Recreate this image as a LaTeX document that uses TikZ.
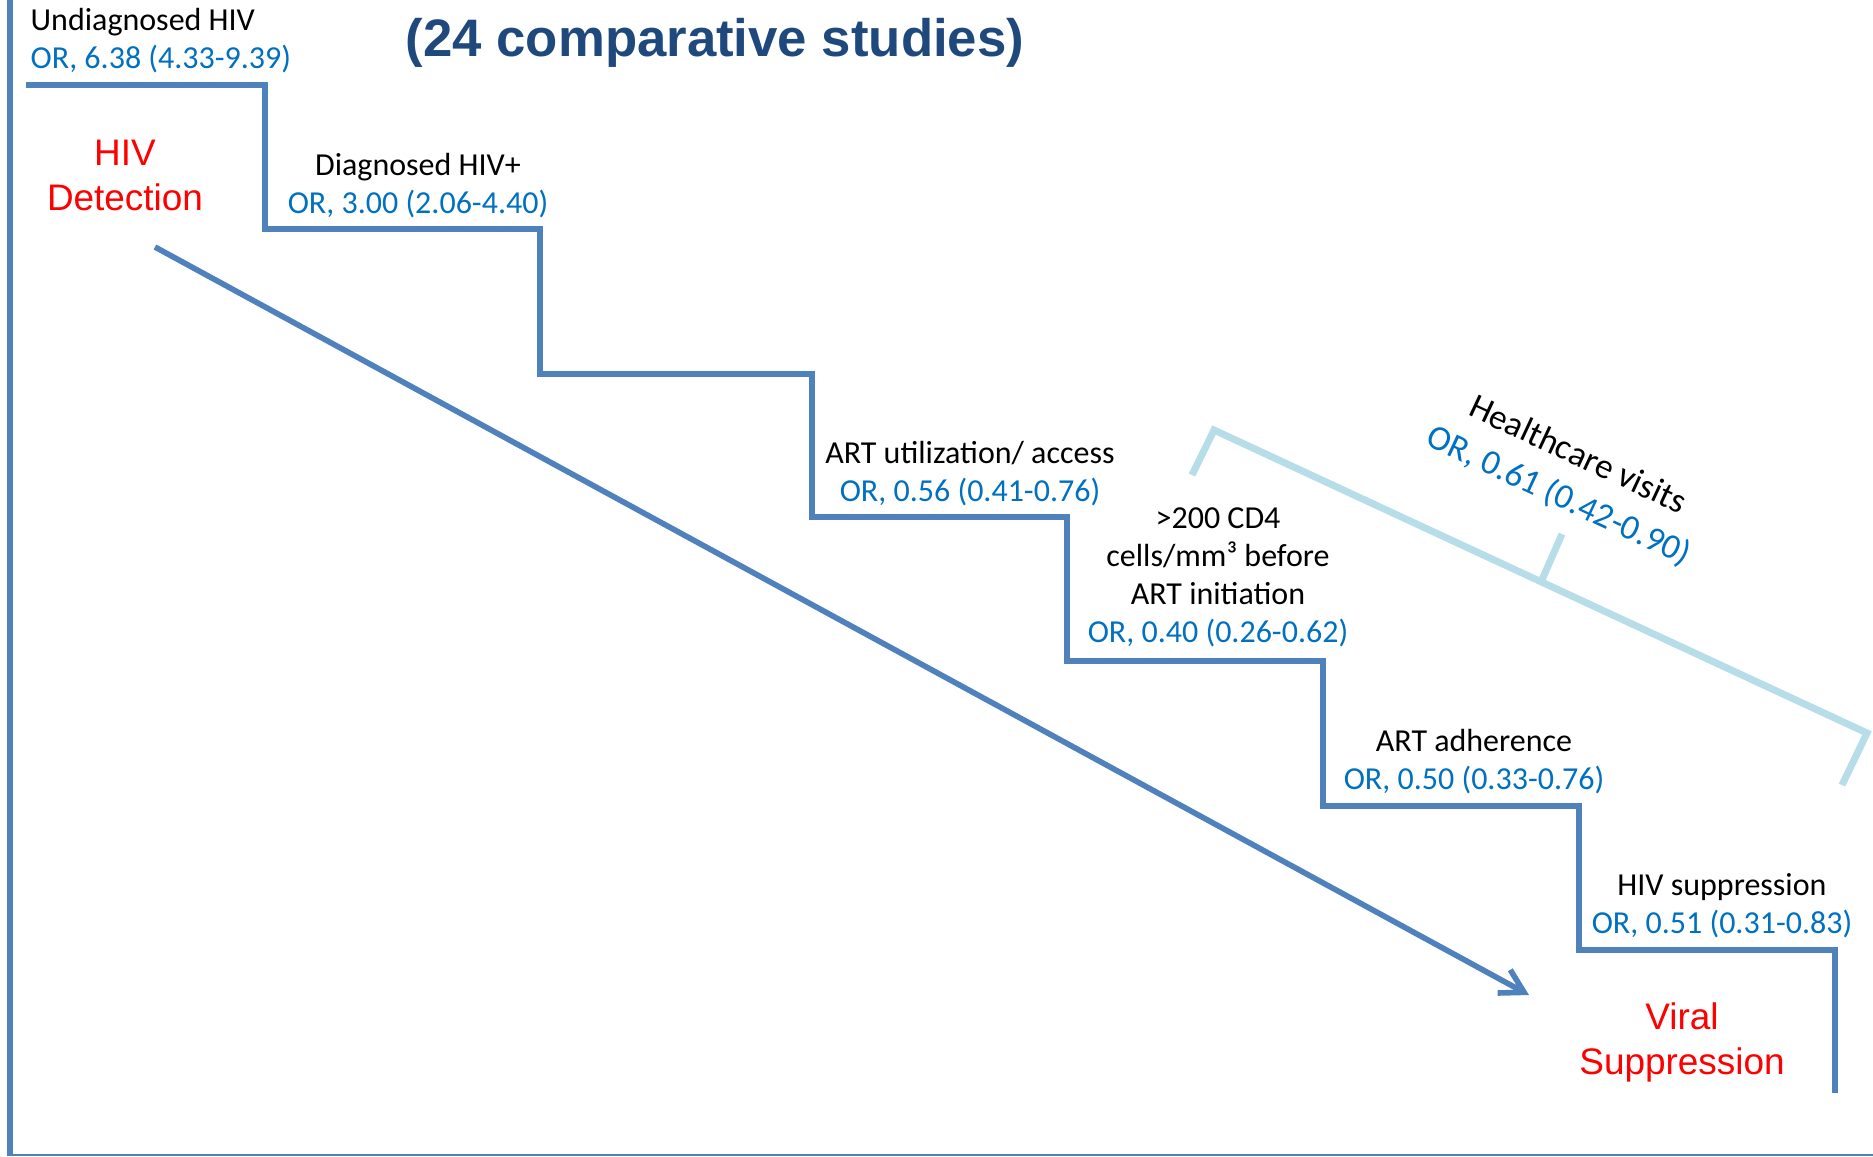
\documentclass[tikz,border=0pt]{standalone}
\usepackage{fontspec}
\setmainfont{Carlito}
\newfontfamily\arialfont{Liberation Sans}
\usepackage{xcolor}
\usepackage{tikz}
\usetikzlibrary{arrows.meta}
\definecolor{stepblue}{HTML}{4F81BD}
\definecolor{orblue}{HTML}{0070C0}
\definecolor{titleblue}{HTML}{1F497D}
\definecolor{bracketblue}{HTML}{B7DDE8}
\definecolor{stagered}{HTML}{FF0000}
\newcommand{\orval}[1]{\textcolor{orblue}{#1}}

\begin{document}
\begin{tikzpicture}[x=0.01cm, y=-0.01cm,
  stair/.style={draw=stepblue, line width=1.6pt},
  stage/.style={align=center, inner sep=0pt, font=\fontsize{9.1}{10.8}\selectfont},
  phase/.style={align=center, inner sep=0pt, text=stagered,
    font=\arialfont\fontsize{10.5}{12.8}\selectfont},
  visits/.style={draw=bracketblue, line width=2pt},
]
  \useasboundingbox (0,0) rectangle (1873,1156);

  % slide frame
  \coordinate (ftop) at (10,0);
  \coordinate (fbot) at (10,1156);
  \coordinate (fright) at (1873,1155);
  \draw[stair] (ftop) -- (fbot);
  \draw[stepblue, line width=0.6pt] (10,1155) -- (fright);

  \node[font=\arialfont\bfseries\fontsize{15}{18}\selectfont, text=titleblue, inner sep=0pt] (title) at (715,43) {(24 comparative studies)};

  % staircase
  \coordinate (k0) at (26,85);
  \coordinate (k1) at (265,229);
  \coordinate (k2) at (540,374);
  \coordinate (k3) at (812,517);
  \coordinate (k4) at (1067,661);
  \coordinate (k5) at (1323,806);
  \coordinate (k6) at (1579,950);
  \coordinate (k7) at (1835,1093);
  \draw[stair] (k0) -| (k1) -| (k2) -| (k3) -| (k4) -| (k5) -| (k6) -| (k7);

  \node[stage, anchor=west, align=left] (undiag) at (30,41) {Undiagnosed HIV\\\orval{OR, 6.38 (4.33-9.39)}};
  \node[stage] (diag) at (418,186) {Diagnosed HIV+\\\orval{OR, 3.00 (2.06-4.40)}};
  \node[stage] (access) at (970,474) {ART utilization/ access\\\orval{OR, 0.56 (0.41-0.76)}};
  \node[stage] (cdfour) at (1218,577) {>200 CD4\\cells/mm³ before\\ART initiation\\\orval{OR, 0.40 (0.26-0.62)}};
  \node[stage] (adhere) at (1474,762) {ART adherence\\\orval{OR, 0.50 (0.33-0.76)}};
  \node[stage] (suppr) at (1722,906) {HIV suppression\\\orval{OR, 0.51 (0.31-0.83)}};

  \node[phase] (detection) at (125,175) {HIV\\Detection};
  \node[phase] (viral) at (1682,1042) {Viral\\Suppression};

  % long arrow
  \coordinate (astart) at (155,247);
  \coordinate (aend) at (1529,995);
  \draw[stair, -{Straight Barb[length=6.5pt, width=7.5pt]}] (astart) -- (aend);

  % healthcare visits bracket
  \coordinate (b1) at (1192,475);
  \coordinate (b2) at (1214,430);
  \coordinate (b3) at (1867,733);
  \coordinate (b4) at (1842,785);
  \coordinate (t1) at (1541,582);
  \coordinate (t2) at (1562,534);
  \draw[visits] (b1) -- (b2) -- (b3) -- (b4);
  \draw[visits] (t1) -- (t2);
  \node[stage, rotate=-25, font=\fontsize{10}{12.8}\selectfont] (hcare) at (1568,476) {Healthcare visits\\\orval{OR, 0.61 (0.42-0.90)}};
\end{tikzpicture}
\end{document}
